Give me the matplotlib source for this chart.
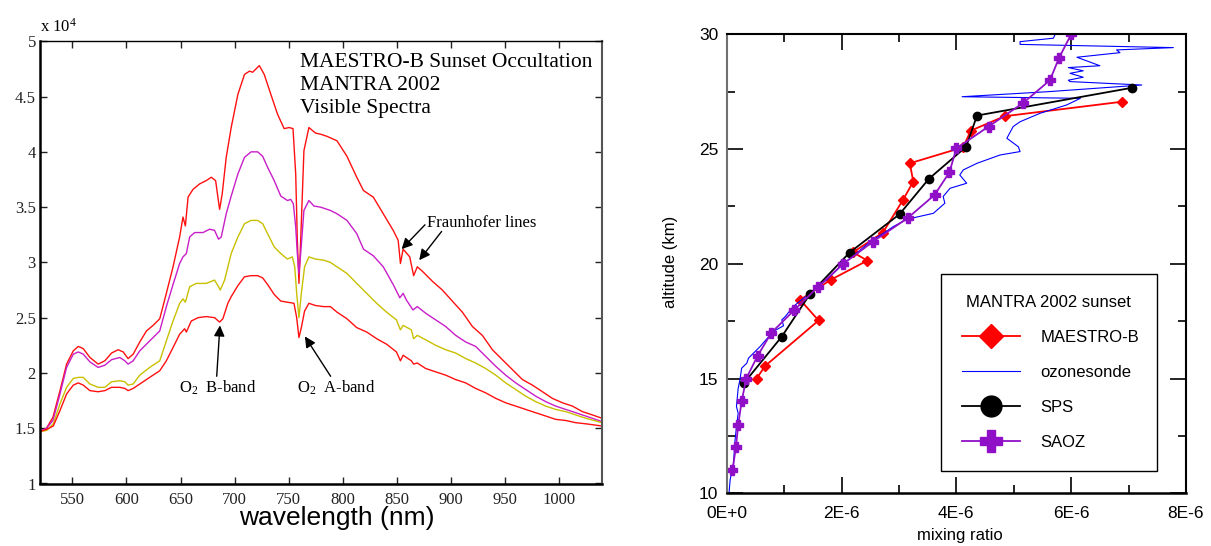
import matplotlib
matplotlib.use('Agg')
import matplotlib.pyplot as plt
from matplotlib.ticker import FixedLocator, FixedFormatter

plt.rcParams['mathtext.fontset'] = 'custom'
plt.rcParams['mathtext.rm'] = 'Liberation Serif'
plt.rcParams['mathtext.it'] = 'Liberation Serif:italic'

# ---------------- Left panel data (intensity in units of 1e4) ----------------
red1_wl = [520, 526, 532, 538.5, 544.6, 550.8, 555.4, 560, 566.2, 573.8,
           580, 586.2, 592.3, 597, 601.5, 606.2, 612.3, 618.5, 624.6, 630.8,
           636.9, 643.1, 649.2, 652.3, 654.5, 657, 661.5, 667.7, 673.8, 678.5,
           682.5, 684.6, 686.2, 688.6, 692.3, 696.9, 703.1, 709.2, 713.8, 716.8,
           722.9, 727.5, 733.6, 739.8, 745.9, 750.5, 754.1, 756.6, 758.1, 759.6,
           761.2, 764.2, 768.8, 774.9, 779.5, 785.6, 794.8, 804, 813.1, 819.3,
           828.4, 837.6, 846.8, 851.4, 853.5, 856, 862.1, 865.7, 869.1, 873.8,
           883, 892.3, 901.5, 910.8, 920.1, 929.3, 938.6, 947.8, 957.1, 966.4,
           975.6, 984.9, 994.1, 1003.4, 1012.7, 1021.9, 1031.2, 1040]
red1_val = [1.47, 1.50, 1.60, 1.84, 2.08, 2.20, 2.24, 2.22, 2.14, 2.08,
            2.11, 2.18, 2.21, 2.19, 2.13, 2.17, 2.28, 2.38, 2.43, 2.49,
            2.72, 2.96, 3.23, 3.41, 3.33, 3.59, 3.66, 3.71, 3.74, 3.77,
            3.74, 3.59, 3.48, 3.62, 3.95, 4.22, 4.52, 4.70, 4.73, 4.72,
            4.78, 4.70, 4.52, 4.34, 4.21, 4.22, 4.21, 3.80, 3.20, 2.81,
            3.20, 4.01, 4.22, 4.17, 4.16, 4.14, 4.10, 3.96, 3.77, 3.65,
            3.59, 3.44, 3.29, 3.20, 2.99, 3.12, 3.05, 2.88, 2.96, 2.92,
            2.83, 2.75, 2.65, 2.55, 2.42, 2.34, 2.21, 2.12, 2.03, 1.94,
            1.89, 1.83, 1.77, 1.73, 1.70, 1.65, 1.62, 1.59]

mag_wl = [520, 526, 532, 538.5, 544.6, 550.8, 555.4, 560, 566.2, 573.8,
          580, 586.2, 593.8, 598.5, 601.5, 606.2, 612.3, 621.5, 630.8, 636.9,
          643.1, 649.2, 652.3, 655.4, 658.5, 663.1, 670.8, 676.9, 681.5, 685.2,
          687.7, 692.3, 696.9, 703.1, 709.2, 715.3, 721.4, 726, 730.6, 736.7,
          742.8, 748.9, 752, 754.4, 756.6, 758.1, 759.6, 761.2, 764.2, 768.8,
          773.4, 779.5, 788.7, 794.8, 804, 813.1, 819.3, 828.4, 837.6, 846.8,
          852.9, 856, 859, 865.1, 869.1, 876.9, 886.1, 895.4, 904.6, 913.9,
          923.1, 932.4, 941.7, 950.9, 960.2, 969.4, 978.7, 988, 997.2, 1006.5,
          1015.7, 1025, 1040]
mag_val = [1.47, 1.50, 1.57, 1.81, 2.05, 2.17, 2.19, 2.17, 2.10, 2.05,
           2.07, 2.12, 2.14, 2.11, 2.08, 2.11, 2.20, 2.29, 2.38, 2.60,
           2.80, 2.99, 3.05, 3.08, 3.23, 3.27, 3.27, 3.30, 3.29, 3.21,
           3.23, 3.44, 3.60, 3.80, 3.95, 4.00, 4.00, 3.96, 3.86, 3.74,
           3.60, 3.56, 3.57, 3.53, 3.32, 3.08, 2.90, 3.08, 3.47, 3.56,
           3.51, 3.50, 3.47, 3.44, 3.38, 3.26, 3.12, 3.06, 2.96, 2.80,
           2.68, 2.72, 2.66, 2.57, 2.60, 2.54, 2.48, 2.42, 2.34, 2.28,
           2.24, 2.15, 2.06, 1.98, 1.91, 1.85, 1.79, 1.74, 1.70, 1.67,
           1.64, 1.61, 1.56]

yel_wl = [520, 526.2, 532.3, 538.5, 544.6, 550.8, 555.4, 560, 566.2, 573.8,
          580, 586.2, 593.8, 598.5, 601.5, 606.2, 612.3, 621.5, 630.8, 636.9,
          643.1, 649.2, 652.3, 654.5, 658.5, 664.6, 673.8, 681.5, 685.2, 686.8,
          690.8, 696.9, 703.1, 709.2, 715.3, 721.4, 726, 730.6, 736.7, 742.8,
          748.9, 753.5, 755.7, 757.5, 759.6, 761.8, 764.8, 768.8, 774.9, 782.6,
          788.7, 794.8, 804, 813.1, 822.3, 831.5, 840.7, 849.8, 853.5, 856,
          863.6, 865.7, 869.1, 876.9, 886.1, 895.4, 904.6, 913.9, 923.1, 932.4,
          941.7, 950.9, 960.2, 969.4, 978.7, 988, 997.2, 1006.5, 1015.7, 1025,
          1040]
yel_val = [1.47, 1.48, 1.54, 1.72, 1.87, 1.95, 1.96, 1.96, 1.90, 1.87,
           1.87, 1.92, 1.93, 1.92, 1.89, 1.90, 1.98, 2.05, 2.11, 2.29,
           2.47, 2.63, 2.67, 2.64, 2.78, 2.81, 2.81, 2.84, 2.78, 2.75,
           2.84, 3.08, 3.23, 3.35, 3.38, 3.38, 3.35, 3.26, 3.14, 3.08,
           3.03, 3.05, 2.96, 2.72, 2.50, 2.72, 2.96, 3.05, 3.03, 3.02,
           3.00, 2.96, 2.90, 2.81, 2.72, 2.63, 2.55, 2.48, 2.39, 2.43,
           2.39, 2.31, 2.34, 2.30, 2.25, 2.21, 2.18, 2.13, 2.09, 2.04,
           1.98, 1.91, 1.85, 1.79, 1.74, 1.70, 1.67, 1.65, 1.62, 1.59,
           1.55]

red2_wl = [520, 526.2, 532.3, 538.5, 544.6, 550.8, 555.4, 560, 566.2, 573.8,
           580, 586.2, 593.8, 598.5, 601.5, 606.2, 612.3, 621.5, 630.8, 636.9,
           643.1, 649.2, 653.8, 655.4, 660, 666.2, 673.8, 681.5, 686.2, 689.2,
           693.8, 696.9, 703.1, 709.2, 715.3, 721.4, 726, 730.6, 736.7, 742.8,
           748.9, 755, 757.5, 759.6, 761.8, 764.8, 768.8, 774.9, 782.6, 788.7,
           794.8, 804, 813.1, 822.3, 831.5, 840.7, 849.8, 853.5, 856, 863.6,
           865.7, 869.1, 876.9, 886.1, 895.4, 904.6, 913.9, 923.1, 932.4, 941.7,
           950.9, 960.2, 969.4, 978.7, 988, 997.2, 1006.5, 1015.7, 1025, 1040]
red2_val = [1.47, 1.49, 1.52, 1.66, 1.81, 1.89, 1.91, 1.89, 1.84, 1.83,
            1.84, 1.87, 1.87, 1.86, 1.84, 1.86, 1.90, 1.96, 2.02, 2.11,
            2.23, 2.35, 2.40, 2.37, 2.47, 2.50, 2.51, 2.50, 2.46, 2.49,
            2.63, 2.69, 2.79, 2.87, 2.88, 2.88, 2.86, 2.80, 2.71, 2.65,
            2.64, 2.63, 2.50, 2.32, 2.41, 2.56, 2.63, 2.61, 2.60, 2.60,
            2.55, 2.49, 2.41, 2.37, 2.31, 2.26, 2.19, 2.11, 2.16, 2.11,
            2.08, 2.09, 2.04, 2.01, 1.98, 1.94, 1.91, 1.86, 1.82, 1.77,
            1.73, 1.70, 1.67, 1.64, 1.61, 1.58, 1.57, 1.55, 1.54, 1.52]

spec_x_ticks = [550, 600, 650, 700, 750, 800, 850, 900, 950, 1000]
spec_y_ticks = [1, 1.5, 2, 2.5, 3, 3.5, 4, 4.5, 5]
spec_y_labels = ['1', '1.5', '2', '2.5', '3', '3.5', '4', '4.5', '5']

# ---------------- Right panel data (mixing ratio in units of 1e-6) ----------------
maestro_alt = [15.0, 15.55, 17.53, 18.43, 19.3, 20.14, 20.5, 21.36, 22.78, 23.58,
               24.38, 25.08, 25.8, 26.43, 27.06]
maestro_mix = [0.52, 0.67, 1.60, 1.28, 1.81, 2.45, 2.20, 2.72, 3.07, 3.25,
               3.19, 4.12, 4.25, 4.84, 6.88]

sps_alt = [14.8, 16.83, 18.68, 20.49, 22.16, 23.7, 25.1, 26.46, 27.67]
sps_mix = [0.30, 0.96, 1.45, 2.14, 3.01, 3.52, 4.17, 4.36, 7.06]

saoz_alt = [11.0, 12.0, 12.98, 14.0, 15.0, 16.0, 17.0, 17.99, 18.98, 20.0,
            20.97, 21.99, 23.0, 23.99, 25.03, 25.98, 27.0, 28.0, 28.98, 30.0]
saoz_mix = [0.10, 0.16, 0.20, 0.26, 0.34, 0.54, 0.78, 1.18, 1.585, 2.03,
            2.55, 3.15, 3.62, 3.88, 4.00, 4.56, 5.16, 5.63, 5.79, 6.00]

sonde_alt = [10.0, 10.59, 11.32, 12.19, 12.9, 13.49, 13.78, 14.58, 14.94, 15.45,
             15.67, 15.89, 16.39, 17.05, 17.3, 17.56, 17.7, 18.14, 18.72, 19.3,
             20.0, 20.46, 20.97, 21.33, 21.62, 21.94, 22.2, 22.64, 22.93, 23.29,
             23.51, 23.87, 24.09, 24.38, 24.74, 24.89, 25.1, 25.47, 25.98, 26.19,
             26.56, 26.92, 27.21, 27.25, 27.28, 27.5, 27.79, 27.94, 28.0, 28.13,
             28.3, 28.41, 28.55, 28.63, 29.0, 29.2, 29.32, 29.42, 29.56, 29.68,
             29.83, 30.0]
sonde_mix = [0.04, 0.06, 0.12, 0.14, 0.17, 0.20, 0.17, 0.20, 0.23, 0.26,
             0.35, 0.38, 0.58, 0.81, 0.99, 0.96, 1.02, 1.16, 1.45, 1.74,
             2.03, 2.26, 2.50, 2.73, 2.90, 3.14, 3.60, 3.80, 3.77, 3.89,
             4.18, 4.06, 4.12, 4.36, 4.76, 5.11, 5.08, 4.88, 4.99, 5.11,
             5.46, 5.92, 6.16, 5.0, 4.10, 5.6, 7.23, 5.98, 5.95, 6.21,
             5.98, 6.21, 5.95, 6.50, 6.10, 6.85, 6.79, 7.78, 5.11, 5.11,
             5.69, 5.72]

mix_ticks = [0, 2, 4, 6, 8]
mix_labels = ['0E+0', '2E-6', '4E-6', '6E-6', '8E-6']
alt_ticks = [10, 15, 20, 25, 30]

# ---------------- Figure ----------------
W, H = 1211, 546
fig = plt.figure(figsize=(W / 100, H / 100), dpi=100)

serif = 'Liberation Serif'
sans = 'Liberation Sans'

# Left panel
ax1 = fig.add_axes([40 / W, 1 - 483.5 / H, 562 / W, 442.2 / H])
ax1.plot(red1_wl, red1_val, color='#ff1010', lw=1.0)
ax1.plot(mag_wl, mag_val, color='#c81ec8', lw=1.0)
ax1.plot(yel_wl, yel_val, color='#c8c000', lw=1.0)
ax1.plot(red2_wl, red2_val, color='#ff1010', lw=1.0)
ax1.set_xlim(520, 1040)
ax1.set_ylim(1, 5)
ax1.xaxis.set_major_locator(FixedLocator(spec_x_ticks))
ax1.yaxis.set_major_locator(FixedLocator(spec_y_ticks))
ax1.yaxis.set_major_formatter(FixedFormatter(spec_y_labels))
ax1.tick_params(axis='both', which='major', direction='in', length=5, width=1,
                top=True, right=True, labelsize=12, colors='#222222')
ax1.tick_params(axis='x', pad=6)
ax1.tick_params(axis='y', pad=3)
for lab in ax1.get_xticklabels() + ax1.get_yticklabels():
    lab.set_fontfamily(serif)
for s in ['left', 'bottom']:
    ax1.spines[s].set_linewidth(1.8)
    ax1.spines[s].set_color('black')
ax1.spines['top'].set_linewidth(1.0)
ax1.spines['right'].set_linewidth(1.5)
ax1.spines['right'].set_color('#555555')

ax1.text(0, 1.021, 'x 10$^4$', transform=ax1.transAxes, fontsize=12,
         family=serif, ha='left', va='baseline')
ax1.set_xlabel('wavelength (nm)', fontsize=19, family=sans)
ax1.xaxis.set_label_coords(0.5276, -0.051)

ax1.text(760.5, 4.81, 'MAESTRO-B Sunset Occultation', fontsize=15.5, family=serif,
         ha='left', va='center')
ax1.text(760.5, 4.60, 'MANTRA 2002', fontsize=15.5, family=serif, ha='left', va='center')
ax1.text(760.5, 4.39, 'Visible Spectra', fontsize=15.5, family=serif, ha='left', va='center')

arrow = dict(arrowstyle='-|>', color='black', lw=1.0, mutation_scale=16,
             shrinkA=0, shrinkB=0)
ax1.text(878, 3.36, 'Fraunhofer lines', fontsize=12, family=serif,
         ha='left', va='center')
ax1.annotate('', xy=(854.6, 3.12), xytext=(876.2, 3.34), arrowprops=arrow)
ax1.annotate('', xy=(870.9, 3.02), xytext=(891.6, 3.28), arrowprops=arrow)
ax1.text(648.3, 1.865, 'O$_2$  B-band', fontsize=12, family=serif,
         ha='left', va='center')
ax1.annotate('', xy=(686.5, 2.43), xytext=(683.5, 1.97), arrowprops=arrow)
ax1.text(758, 1.865, 'O$_2$  A-band', fontsize=12, family=serif,
         ha='left', va='center')
ax1.annotate('', xy=(765.1, 2.33), xytext=(788.9, 1.97), arrowprops=arrow)

# Right panel
ax2 = fig.add_axes([726.7 / W, 1 - 493.3 / H, 459.3 / W, 459 / H])
ax2.plot(maestro_mix, maestro_alt, color='#ff0000', lw=1.3, marker='D',
         markersize=5, label='MAESTRO-B')
ax2.plot(sonde_mix, sonde_alt, color='#0000ff', lw=0.8, label='ozonesonde')
ax2.plot(sps_mix, sps_alt, color='black', lw=1.3, marker='o', markersize=6,
         label='SPS')
ax2.plot(saoz_mix, saoz_alt, color='#9010c8', lw=1.3, marker='P', markersize=6.5,
         label='SAOZ')
ax2.set_xlim(0, 8)
ax2.set_ylim(10, 30)
ax2.xaxis.set_major_locator(FixedLocator(mix_ticks))
ax2.xaxis.set_major_formatter(FixedFormatter(mix_labels))
ax2.xaxis.set_minor_locator(FixedLocator([1, 3, 5, 7]))
ax2.yaxis.set_major_locator(FixedLocator(alt_ticks))
ax2.yaxis.set_minor_locator(FixedLocator([12.5, 17.5, 22.5, 27.5]))
ax2.tick_params(axis='both', which='major', direction='in', length=11.5, width=1.2,
                top=True, right=True, labelsize=12.5)
ax2.tick_params(axis='both', which='minor', direction='in', length=6, width=1.2,
                top=True, right=True)
ax2.tick_params(axis='x', which='major', pad=9)
ax2.tick_params(axis='y', which='major', pad=6)
for lab in ax2.get_xticklabels() + ax2.get_yticklabels():
    lab.set_fontfamily(sans)
ax2.spines['left'].set_color('#707070')
ax2.spines['left'].set_linewidth(1.5)
ax2.spines['bottom'].set_linewidth(1.8)
ax2.spines['top'].set_linewidth(1.5)
ax2.spines['right'].set_linewidth(1.5)

ax2.set_ylabel('altitude (km)', fontsize=12, family=sans)
ax2.yaxis.set_label_coords(-0.106, 0.504)
ax2.set_xlabel('mixing ratio', fontsize=12, family=sans)
ax2.xaxis.set_label_coords(0.508, -0.076)

leg = ax2.legend(loc='lower left', bbox_to_anchor=(0.4666, 0.0492, 0.4697, 0.4279),
                 mode='expand', title='MANTRA 2002 sunset', fancybox=False,
                 edgecolor='black', framealpha=1, borderaxespad=0,
                 handlelength=3.5, handletextpad=1.2, labelspacing=1.2,
                 borderpad=1.25, prop={'family': sans, 'size': 12},
                 title_fontproperties={'family': sans, 'size': 12},
                 markerscale=2.5)
leg.get_frame().set_linewidth(1.0)

fig.savefig('out.png', dpi=100)
